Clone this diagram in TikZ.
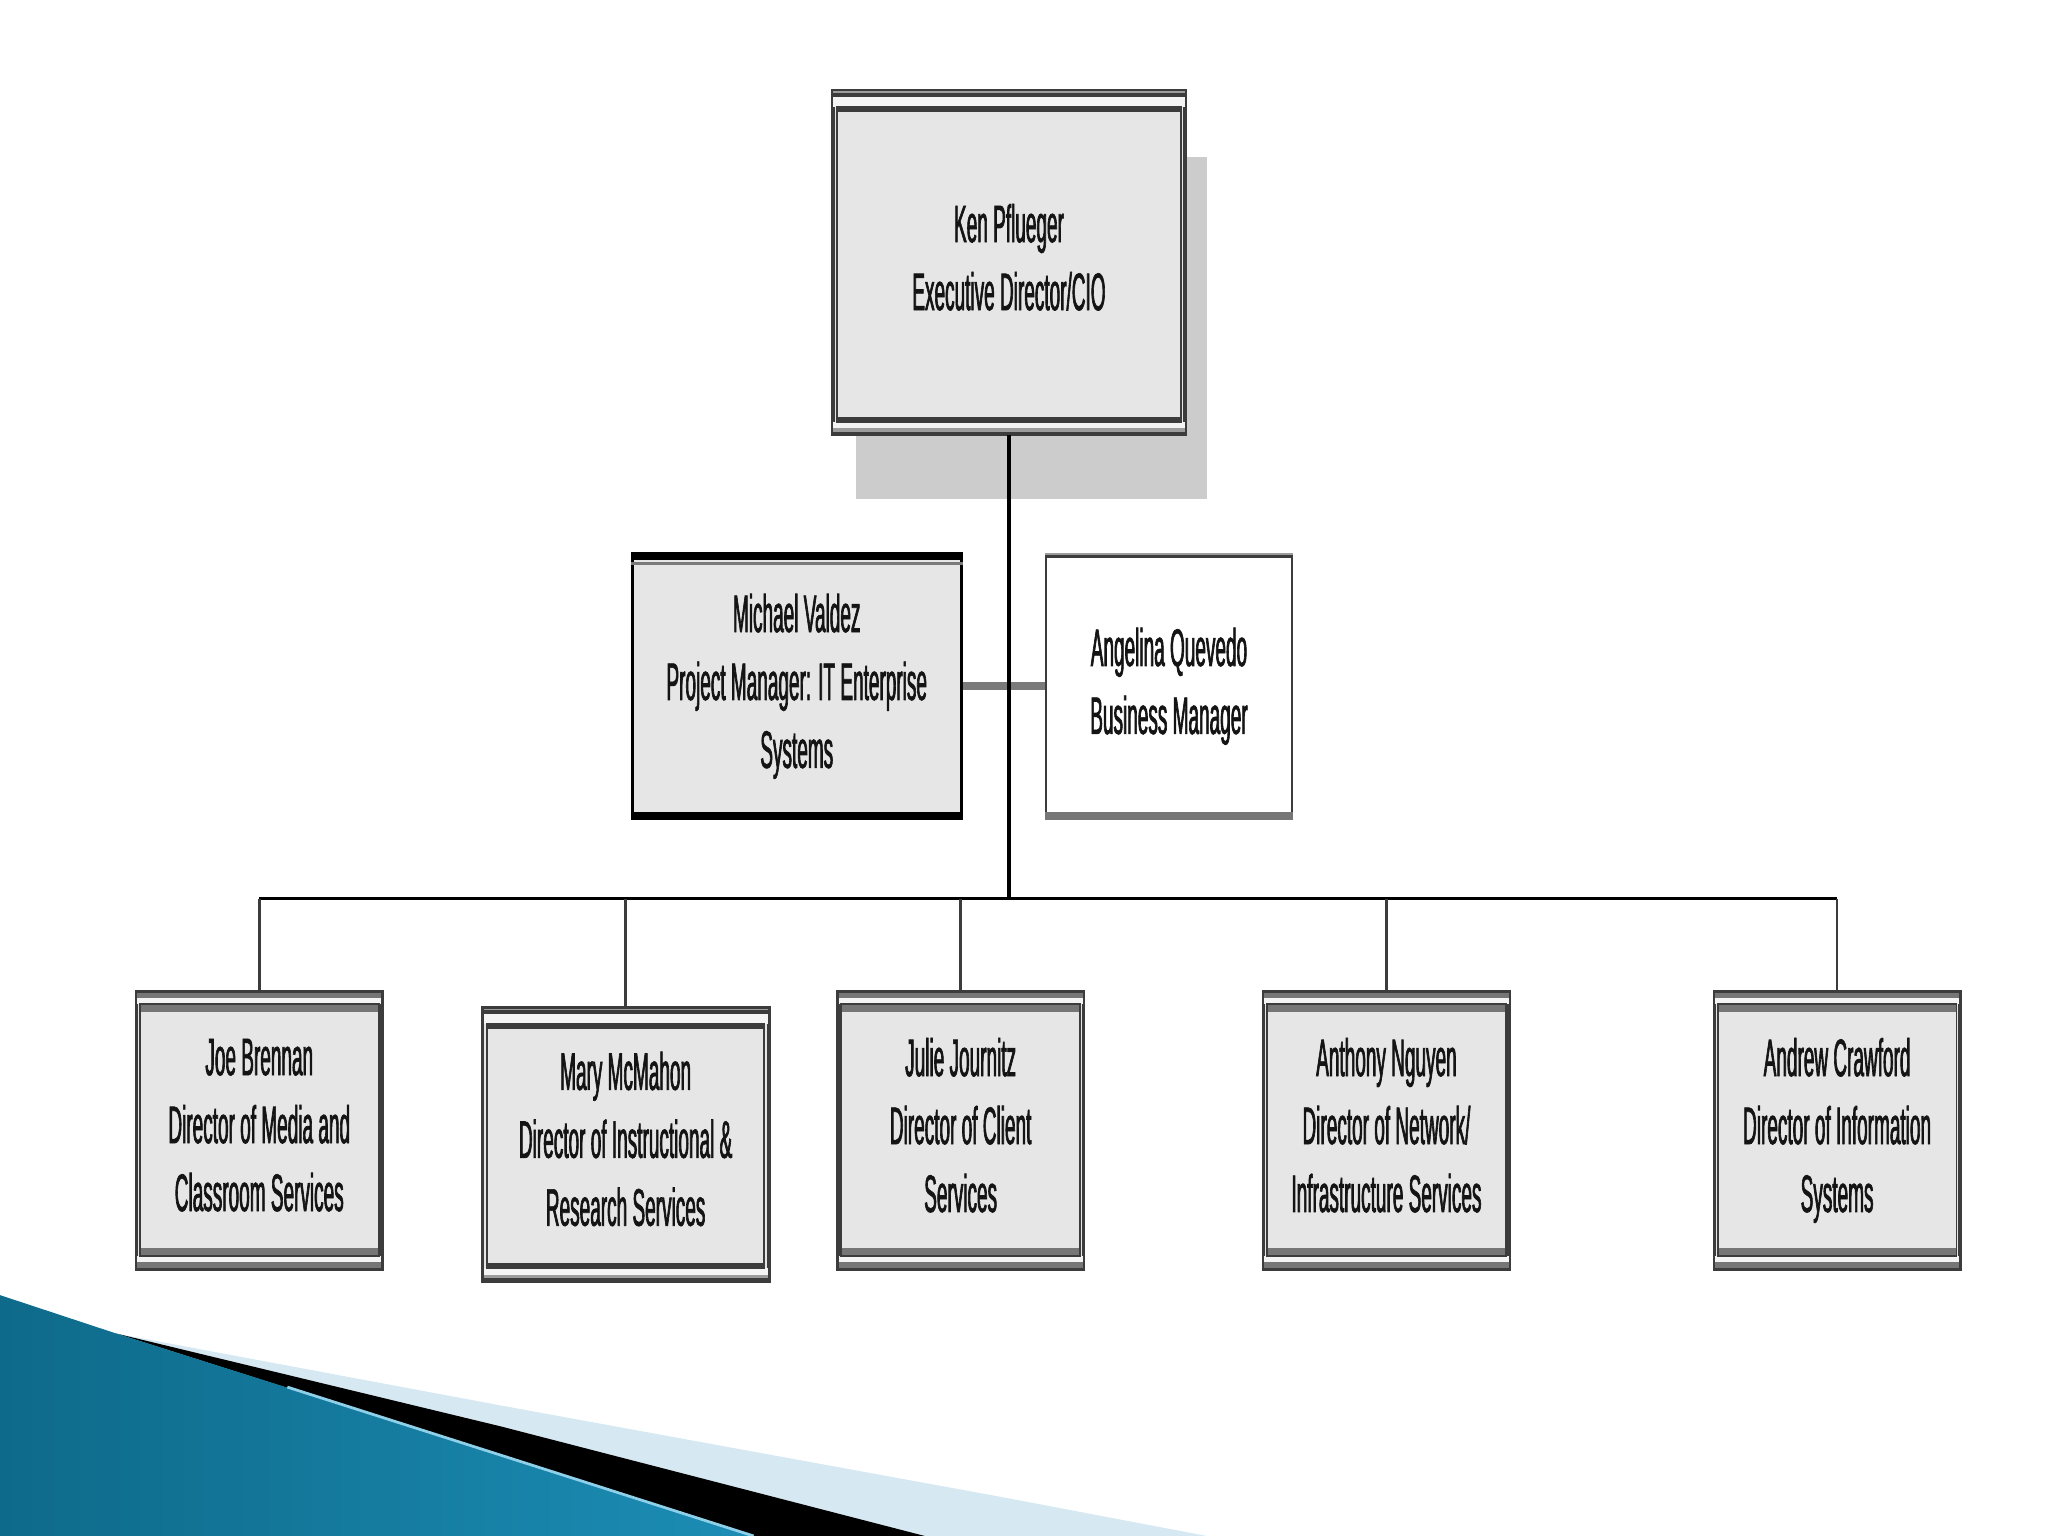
\documentclass[tikz,border=0pt]{standalone}
\usepackage{fontspec}
\setmainfont{Liberation Sans}[FakeStretch = 0.36, FakeBold = 1.2]
\usetikzlibrary{shadows}

\definecolor{boxfill}{HTML}{E6E6E6}
\definecolor{stripfill}{HTML}{F4F4F4}
\definecolor{bandgray}{HTML}{767676}
\definecolor{bandlight}{HTML}{9C9C9C}
\definecolor{framedark}{HTML}{3C3C3C}
\definecolor{shadowgray}{HTML}{CCCCCC}
\definecolor{linkgray}{HTML}{7A7A7A}
\definecolor{textgray}{HTML}{141414}
\definecolor{swooshdark}{HTML}{0E6A8A}
\definecolor{swooshlight}{HTML}{4CB8DC}
\definecolor{swooshmid}{HTML}{1C8DB5}
\definecolor{swooshpale}{HTML}{D6E8F1}
\definecolor{swooshhigh}{HTML}{8FD0E8}

\tikzset{
	every node/.style = {font = \fontsize{11.5}{14.8}\selectfont, text = textgray, align = center, inner sep = 0pt,
		execute at begin node = \rule{0pt}{12.4pt}, execute at end node = \rule[-2.4pt]{0pt}{2.4pt}},
	headbox/.style = {rectangle, draw = framedark, line width = 0.6pt, fill = boxfill, minimum width = 2.69cm, minimum height = 2.62cm},
	staffbox/.style = {rectangle, draw = black, line width = 0.6pt, fill = boxfill, minimum width = 2.52cm, minimum height = 2.03cm},
	plainbox/.style = {rectangle, draw = framedark, line width = 0.5pt, fill = white, minimum width = 1.88cm, minimum height = 2.03cm},
	dirbox/.style = {rectangle, draw = framedark, line width = 0.5pt, fill = boxfill, minimum width = 1.87cm, minimum height = 2.11cm},
	mainline/.style = {black, line width = 0.75pt},
	dropline/.style = {framedark, line width = 0.55pt}
}

\begin{document}
\begin{tikzpicture}
	\useasboundingbox (0, 0) rectangle (15.68, 11.76);

	\fill[swooshpale] (0.89, 1.55) -- (3.83, 1.00) -- (7.66, 0.30) -- (9.24, 0) -- (0.89, 0) -- cycle;
	\fill[black] (0.89, 1.55) -- (3.83, 0.84) -- (7.08, 0) -- (5.77, 0) -- cycle;
	\shade[left color = swooshdark, middle color = swooshlight, right color = swooshmid] (0, 1.844) -- (0.89, 1.55) -- (3.83, 0.62) -- (5.77, 0) -- (0, 0) -- cycle;
	\draw[swooshhigh, line width = 0.6pt] (2.2, 1.14) -- (3.83, 0.62) -- (5.77, 0);

	\node[headbox, drop shadow = {shadow xshift = 0.17cm, shadow yshift = -0.5cm, fill = shadowgray, opacity = 1}] (ken) at (7.725, 9.75) {Ken Pflueger\\Executive Director/CIO};
	\node[staffbox] (valdez) at (6.10, 6.505) {Michael Valdez\\Project Manager: IT Enterprise\\Systems};
	\node[plainbox] (quevedo) at (8.95, 6.505) {Angelina Quevedo\\Business Manager};

	\node[dirbox] (brennan) at (1.985, 3.105) {Joe Brennan\\Director of Media and\\Classroom Services};
	\node[dirbox, minimum width = 2.18cm, minimum height = 2.08cm] (mcmahon) at (4.79, 3.00) {Mary McMahon\\Director of Instructional \&\\Research Services};
	\node[dirbox] (journitz) at (7.355, 3.105) {Julie Journitz\\Director of Client\\Services};
	\node[dirbox] (nguyen) at (10.615, 3.105) {Anthony Nguyen\\Director of Network/\\Infrastructure Services};
	\node[dirbox] (crawford) at (14.065, 3.105) {Andrew Crawford\\Director of Information\\Systems};

	\foreach \n in {ken, mcmahon} {
		\fill[stripfill] (\n.north west) rectangle ([yshift = -0.13cm]\n.north east);
		\fill[stripfill] (\n.south west) rectangle ([yshift = 0.10cm]\n.south east);
		\fill[bandlight] (\n.north west) rectangle ([yshift = -0.025cm]\n.north east);
		\fill[framedark] ([yshift = -0.025cm]\n.north west) rectangle ([yshift = -0.05cm]\n.north east);
		\fill[framedark] (\n.south west) rectangle ([yshift = 0.025cm]\n.south east);
		\fill[bandlight] ([yshift = 0.025cm]\n.south west) rectangle ([yshift = 0.05cm]\n.south east);
		\fill[framedark] ([shift = {(0.04cm, -0.13cm)}]\n.north west) rectangle ([shift = {(-0.04cm, -0.165cm)}]\n.north east);
		\fill[framedark] ([shift = {(0.04cm, 0.10cm)}]\n.south west) rectangle ([shift = {(-0.04cm, 0.135cm)}]\n.south east);
		\draw[framedark, line width = 0.4pt] ([shift = {(0.04cm, -0.13cm)}]\n.north west) rectangle ([shift = {(-0.04cm, 0.10cm)}]\n.south east);
		\draw[framedark, line width = 0.6pt] (\n.north west) rectangle (\n.south east);
	}

	\foreach \n in {brennan, journitz, nguyen, crawford} {
		\fill[stripfill] (\n.north west) rectangle ([yshift = -0.095cm]\n.north east);
		\fill[stripfill] (\n.south west) rectangle ([yshift = 0.10cm]\n.south east);
		\fill[bandgray] (\n.north west) rectangle ([yshift = -0.05cm]\n.north east);
		\fill[bandgray] (\n.south west) rectangle ([yshift = 0.06cm]\n.south east);
		\fill[bandgray] ([shift = {(0.03cm, -0.095cm)}]\n.north west) rectangle ([shift = {(-0.03cm, -0.155cm)}]\n.north east);
		\fill[bandgray] ([shift = {(0.03cm, 0.10cm)}]\n.south west) rectangle ([shift = {(-0.03cm, 0.16cm)}]\n.south east);
		\draw[framedark, line width = 0.4pt] ([shift = {(0.03cm, -0.095cm)}]\n.north west) rectangle ([shift = {(-0.03cm, 0.10cm)}]\n.south east);
		\draw[framedark, line width = 0.5pt] (\n.north west) rectangle (\n.south east);
	}

	\fill[black] (valdez.north west) rectangle ([yshift = -0.06cm]valdez.north east);
	\fill[linkgray] ([yshift = -0.07cm]valdez.north west) rectangle ([yshift = -0.095cm]valdez.north east);
	\fill[black] (valdez.south west) rectangle ([yshift = 0.065cm]valdez.south east);

	\fill[bandlight] (quevedo.north west) rectangle ([yshift = -0.02cm]quevedo.north east);
	\fill[framedark] ([yshift = -0.02cm]quevedo.north west) rectangle ([yshift = -0.04cm]quevedo.north east);
	\fill[bandgray] (quevedo.south west) rectangle ([yshift = 0.06cm]quevedo.south east);

	\coordinate (bus) at (7.725, 4.88);
	\draw[linkgray, line width = 1.7pt] (valdez.east) -- (quevedo.west);
	\draw[mainline] (ken.south) -- (bus);
	\draw[mainline] (brennan.north |- bus) -- (crawford.north |- bus);
	\foreach \n in {brennan, mcmahon, journitz, nguyen, crawford}
		\draw[dropline] (\n.north) -- (\n.north |- bus);
\end{tikzpicture}
\end{document}
